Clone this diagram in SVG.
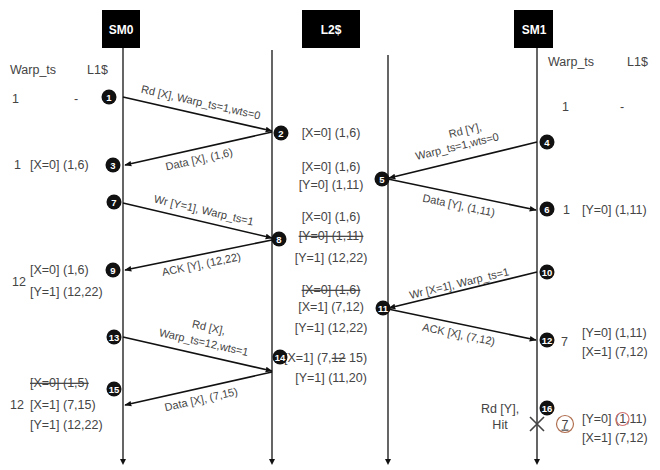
<svg xmlns="http://www.w3.org/2000/svg" width="660" height="470" viewBox="0 0 660 470">
<defs>
<marker id="ah" viewBox="0 0 10 10" refX="9" refY="5" markerWidth="7" markerHeight="7" orient="auto-start-reverse" markerUnits="userSpaceOnUse"><path d="M0,1 L10,5 L0,9 z" fill="#111"/></marker>
<marker id="end" viewBox="0 0 10 10" refX="5" refY="5" markerWidth="6" markerHeight="6" orient="auto" markerUnits="userSpaceOnUse"><path d="M0,0 L10,5 L0,10 z" fill="#111"/></marker>
</defs>
<style>
text{font-family:"Liberation Sans",Arial,sans-serif;fill:#444;font-size:12.5px}
.hd{fill:#000}
.hdt{fill:#fff;font-weight:bold;font-size:12px;text-anchor:middle}
.life{stroke:#555;stroke-width:1.8;fill:none}
.msg{stroke:#111;stroke-width:1.6;fill:none}
.lbl{text-anchor:middle;font-size:11px}
.st{text-anchor:middle}
.lt{text-decoration:line-through}
.num circle{fill:#111}
.num text{fill:#fff;font-size:9.5px;font-weight:bold;text-anchor:middle}
</style>
<rect width="660" height="470" fill="#fff"/>

<g id="SM0">
<rect class="hd" x="102" y="10" width="38" height="38"/>
<text class="hdt" x="121" y="34">SM0</text>
</g>
<g id="L2">
<rect class="hd" x="302" y="10" width="58" height="38"/>
<text class="hdt" x="331" y="34">L2$</text>
</g>
<g id="SM1">
<rect class="hd" x="514" y="10" width="39" height="38"/>
<text class="hdt" x="534" y="34">SM1</text>
</g>

<g id="lifelines">
<line class="life" x1="123" y1="48" x2="123" y2="462" marker-end="url(#end)"/>
<line class="life" x1="272" y1="50" x2="272" y2="462" marker-end="url(#end)"/>
<line class="life" x1="388" y1="55" x2="388" y2="462" marker-end="url(#end)"/>
<line class="life" x1="537" y1="48" x2="537" y2="462" marker-end="url(#end)"/>
</g>

<g id="connectors">
<line class="msg" x1="123" y1="97" x2="272" y2="131" marker-end="url(#ah)"/>
<line class="msg" x1="272" y1="132" x2="125" y2="165" marker-end="url(#ah)"/>
<line class="msg" x1="123" y1="203" x2="272" y2="238" marker-end="url(#ah)"/>
<line class="msg" x1="272" y1="240" x2="125" y2="270" marker-end="url(#ah)"/>
<line class="msg" x1="123" y1="337" x2="272" y2="371" marker-end="url(#ah)"/>
<line class="msg" x1="272" y1="372" x2="125" y2="405" marker-end="url(#ah)"/>
<line class="msg" x1="537" y1="142" x2="389" y2="178" marker-end="url(#ah)"/>
<line class="msg" x1="388" y1="179" x2="536" y2="210" marker-end="url(#ah)"/>
<line class="msg" x1="537" y1="272" x2="389" y2="308" marker-end="url(#ah)"/>
<line class="msg" x1="388" y1="309" x2="536" y2="340" marker-end="url(#ah)"/>
<path d="M530,417 L544,431 M544,417 L530,431" stroke="#444" stroke-width="1.6"/>
</g>

<g id="msg-labels">
<text class="lbl" transform="translate(200,106) rotate(12.8)">Rd [X], Warp_ts=1,wts=0</text>
<text class="lbl" transform="translate(200,163) rotate(-12.6)">Data [X], (1,6)</text>
<text class="lbl" transform="translate(203,214) rotate(13.2)">Wr [Y=1], Warp_ts=1</text>
<text class="lbl" transform="translate(202,268) rotate(-11.5)">ACK [Y], (12,22)</text>
<text class="lbl" transform="translate(208,331) rotate(12.8)">Rd [X],</text>
<text class="lbl" transform="translate(203,346) rotate(12.8)">Warp_ts=12,wts=1</text>
<text class="lbl" transform="translate(202,403) rotate(-12.6)">Data [X], (7,15)</text>
<text class="lbl" transform="translate(466,134) rotate(-13.6)">Rd [Y],</text>
<text class="lbl" transform="translate(458,150) rotate(-13.6)">Warp_ts=1,wts=0</text>
<text class="lbl" transform="translate(458,209) rotate(11.8)">Data [Y], (1,11)</text>
<text class="lbl" transform="translate(460,287) rotate(-13.6)">Wr [X=1], Warp_ts=1</text>
<text class="lbl" transform="translate(458,338) rotate(11.8)">ACK [X], (7,12)</text>
</g>

<g id="sm0-state">
<text x="10" y="74" font-size="13">Warp_ts</text>
<text x="87" y="74" font-size="13">L1$</text>
<text x="12" y="103" font-size="13">1</text>
<text x="74" y="103" font-size="13">-</text>
<text x="14" y="169">1</text>
<text x="30" y="169">[X=0] (1,6)</text>
<text x="12" y="286">12</text>
<text x="30" y="274">[X=0] (1,6)</text>
<text x="30" y="296">[Y=1] (12,22)</text>
<text class="lt" x="30" y="387">[X=0] (1,5)</text>
<text x="10" y="409">12</text>
<text x="30" y="409">[X=1] (7,15)</text>
<text x="30" y="429">[Y=1] (12,22)</text>
</g>

<g id="l2-state">
<text class="st" x="331" y="137">[X=0] (1,6)</text>
<text class="st" x="331" y="171">[X=0] (1,6)</text>
<text class="st" x="331" y="189">[Y=0] (1,11)</text>
<text class="st" x="331" y="221">[X=0] (1,6)</text>
<text class="st lt" x="331" y="240">[Y=0] (1,11)</text>
<text class="st" x="331" y="262">[Y=1] (12,22)</text>
<text class="st lt" x="331" y="294">[X=0] (1,6)</text>
<text class="st" x="331" y="311">[X=1] (7,12)</text>
<text class="st" x="331" y="332">[Y=1] (12,22)</text>
<text x="284" y="362">[X=1] (7,<tspan class="lt">12</tspan> 15)</text>
<text class="st" x="331" y="382">[Y=1] (11,20)</text>
</g>

<g id="sm1-state">
<text x="548" y="66" font-size="13">Warp_ts</text>
<text x="627" y="66" font-size="13">L1$</text>
<text x="562" y="111" font-size="13">1</text>
<text x="620" y="111" font-size="13">-</text>
<text x="563" y="214" font-size="13">1</text>
<text x="582" y="214">[Y=0] (1,11)</text>
<text x="561" y="346" font-size="13">7</text>
<text x="582" y="337">[Y=0] (1,11)</text>
<text x="582" y="356">[X=1] (7,12)</text>
<text x="500" y="413" font-size="10" text-anchor="middle">Rd [Y],</text>
<text x="500" y="429" font-size="10" text-anchor="middle">Hit</text>
<circle cx="565" cy="424" r="8.5" fill="none" stroke="#b07050" stroke-width="1.2"/>
<text x="565" y="428.5" font-size="12" text-anchor="middle" text-decoration="underline">7</text>
<text x="582" y="423">[Y=0] (1,11)</text>
<circle cx="622.5" cy="419" r="6.5" fill="none" stroke="#d07070" stroke-width="1.2"/>
<text x="582" y="442">[X=1] (7,12)</text>
</g>

<g id="n1" class="num"><circle cx="109" cy="97" r="7.5"/><text x="109" y="100.5">1</text></g>
<g id="n2" class="num"><circle cx="281" cy="133" r="7.5"/><text x="281" y="136.5">2</text></g>
<g id="n3" class="num"><circle cx="113" cy="165" r="7.5"/><text x="113" y="168.5">3</text></g>
<g id="n4" class="num"><circle cx="547" cy="142" r="7.5"/><text x="547" y="145.5">4</text></g>
<g id="n5" class="num"><circle cx="382" cy="179" r="7.5"/><text x="382" y="182.5">5</text></g>
<g id="n6" class="num"><circle cx="547" cy="209" r="7.5"/><text x="547" y="212.5">6</text></g>
<g id="n7" class="num"><circle cx="114" cy="202" r="7.5"/><text x="114" y="205.5">7</text></g>
<g id="n8" class="num"><circle cx="279" cy="239" r="7.5"/><text x="279" y="242.5">8</text></g>
<g id="n9" class="num"><circle cx="113" cy="270" r="7.5"/><text x="113" y="273.5">9</text></g>
<g id="n10" class="num"><circle cx="547" cy="272" r="7.5"/><text x="547" y="275.5">10</text></g>
<g id="n11" class="num"><circle cx="383" cy="308" r="7.5"/><text x="383" y="311.5">11</text></g>
<g id="n12" class="num"><circle cx="547" cy="340" r="7.5"/><text x="547" y="343.5">12</text></g>
<g id="n13" class="num"><circle cx="114" cy="337" r="7.5"/><text x="114" y="340.5">13</text></g>
<g id="n14" class="num"><circle cx="280" cy="357" r="7.5"/><text x="280" y="360.5">14</text></g>
<g id="n15" class="num"><circle cx="114" cy="389" r="7.5"/><text x="114" y="392.5">15</text></g>
<g id="n16" class="num"><circle cx="547" cy="408" r="7.5"/><text x="547" y="411.5">16</text></g>
</svg>
